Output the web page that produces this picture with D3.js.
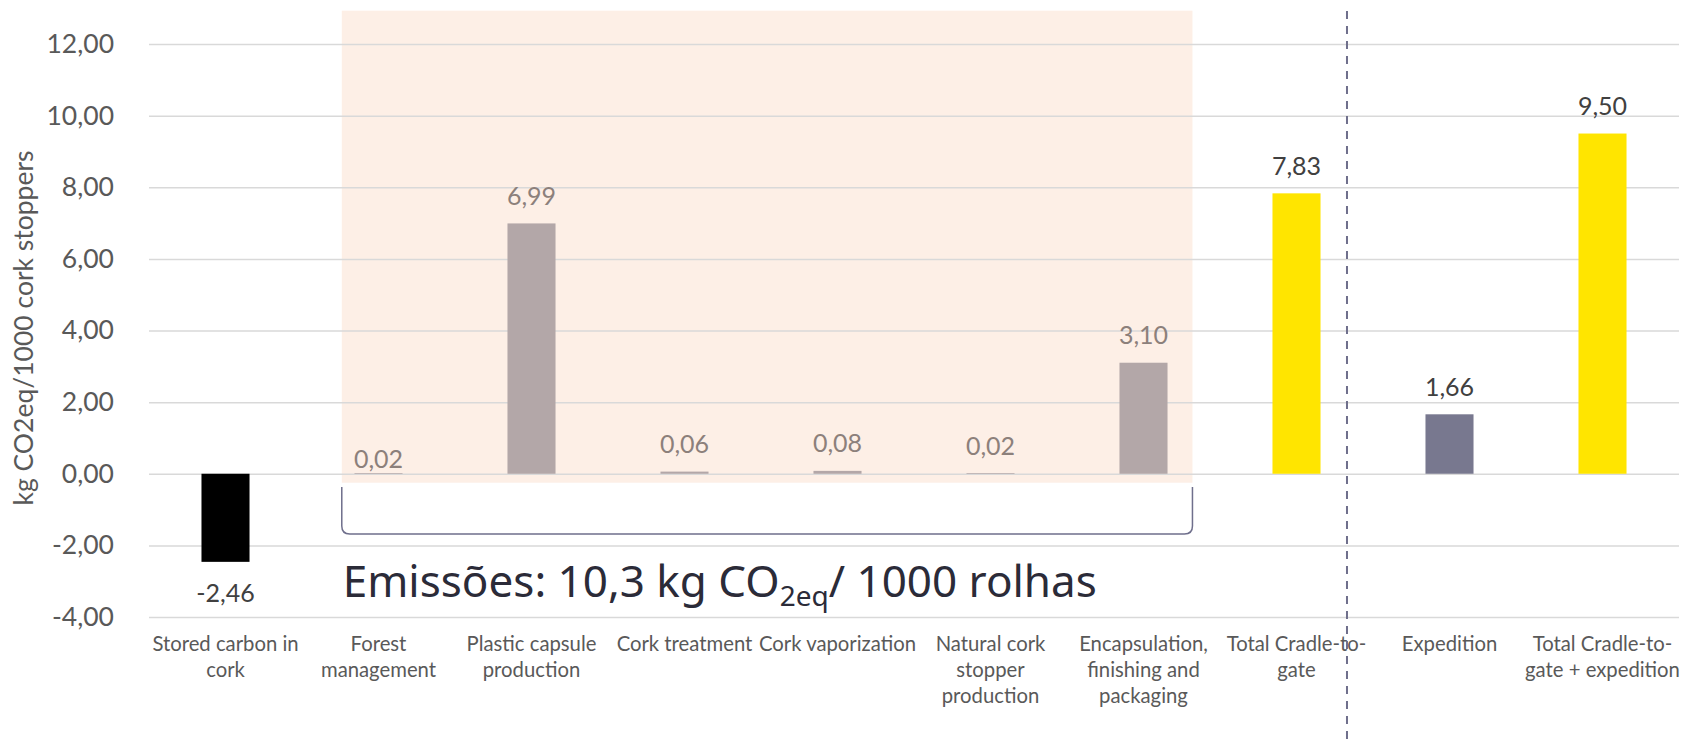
<!DOCTYPE html>
<html lang="en">
<head>
    <meta charset="UTF-8">
    <title>Cork stoppers carbon footprint</title>
    <script src="https://d3js.org/d3.v7.min.js"></script>
</head>
<body>
    <div id="chart"></div>
</body>
<style>
    *{
        padding: 0;
        margin: 0;
    }
    body{
        background: white;
    }
    text{
        font-family: Lato, "Open Sans", sans-serif;
    }
</style>
<script>
    // data
    let categories = [
        "Stored carbon in\ncork",
        "Forest\nmanagement",
        "Plastic capsule\nproduction",
        "Cork treatment",
        "Cork vaporization",
        "Natural cork\nstopper\nproduction",
        "Encapsulation,\nfinishing and\npackaging",
        "Total Cradle-to-\ngate",
        "Expedition",
        "Total Cradle-to-\ngate + expedition"
    ];
    let values = [-2.46, 0.02, 6.99, 0.06, 0.08, 0.02, 3.10, 7.83, 1.66, 9.50];
    let kinds = ["stored", "process", "process", "process", "process", "process", "process", "total", "expedition", "total"];
    let yTicks = [-4, -2, 0, 2, 4, 6, 8, 10, 12];
    let yTitle = "kg CO2eq/1000 cork stoppers";

    let colors = {stored: "#000000", process: "#b3a7a8", total: "#ffe500", expedition: "#78788f"};
    let labelColors = {stored: "#404040", process: "#8c807b", total: "#404040", expedition: "#404040"};

    var w = 1692;
    var h = 741;

    let locale = d3.formatLocale({decimal: ",", thousands: ".", grouping: [3], currency: ["", ""], minus: "-"});
    let fmt = locale.format(".2f");

    var svg = d3.select("#chart")
        .append("svg")
        .attr("width", w)
        .attr("height", h);

    let xScale = d3.scaleBand()
        .domain(categories)
        .range([149, 1679])
        .paddingInner(0.686)
        .paddingOuter(0.343);

    let yScale = d3.scaleLinear()
        .domain([-4, 12])
        .range([617, 44]);

    let step = xScale.step();
    let cx = function(i){ return xScale(categories[i]) + xScale.bandwidth() / 2; };

    // shaded block behind the process steps
    let shadeLeft = cx(1) - 0.24 * step;
    let shadeRight = cx(6) + 0.32 * step;
    svg.append("rect")
        .attr("x", shadeLeft)
        .attr("y", yScale(12.93))
        .attr("width", shadeRight - shadeLeft)
        .attr("height", yScale(-0.25) - yScale(12.93))
        .attr("fill", "#fdefe6");

    // gridlines + tick labels
    let yAxis = d3.axisLeft(yScale)
        .tickValues(yTicks)
        .tickFormat(fmt)
        .tickSize(-(1679 - 149))
        .tickPadding(35);

    let gy = svg.append("g")
        .attr("transform", "translate(149,0)")
        .call(yAxis);
    gy.select(".domain").remove();
    gy.selectAll(".tick line")
        .attr("stroke", "#d9d9d9")
        .attr("stroke-width", 1.5);
    gy.selectAll(".tick text")
        .attr("fill", "#595959")
        .style("font-size", "26.5px")
        .style("font-family", "Lato, sans-serif");

    // bars
    svg.selectAll("rect.bar")
        .data(values)
        .enter()
        .append("rect")
        .attr("class", "bar")
        .attr("x", (d, i) => xScale(categories[i]))
        .attr("width", xScale.bandwidth())
        .attr("y", d => yScale(Math.max(0, d)))
        .attr("height", d => Math.abs(yScale(d) - yScale(0)))
        .attr("fill", (d, i) => colors[kinds[i]]);

    // value labels
    svg.selectAll("text.val")
        .data(values)
        .enter()
        .append("text")
        .attr("class", "val")
        .attr("x", (d, i) => cx(i))
        .attr("y", (d, i) => {
            if (d < 0) return yScale(d) + 40;
            let y = yScale(d) - 18.5;
            if (i == 1) y += 13; // forest label sits a bit lower
            return y;
        })
        .attr("text-anchor", "middle")
        .attr("fill", (d, i) => labelColors[kinds[i]])
        .style("font-size", "25px")
        .text(d => fmt(d));

    // category labels
    let cat = svg.selectAll("text.cat")
        .data(categories)
        .enter()
        .append("text")
        .attr("class", "cat")
        .attr("text-anchor", "middle")
        .attr("fill", "#595959")
        .style("font-size", "20.3px");
    cat.each(function(d, i){
        let t = d3.select(this);
        d.split("\n").forEach((line, j) => {
            t.append("tspan")
                .attr("x", cx(i))
                .attr("y", 651 + j * 26)
                .text(line);
        });
    });

    // y axis title
    svg.append("text")
        .attr("transform", "translate(33," + 328 + ") rotate(-90)")
        .attr("text-anchor", "middle")
        .attr("fill", "#595959")
        .style("font-size", "26.5px")
        .text(yTitle);

    // bracket under the process steps
    let bTop = yScale(-0.37);
    let bBot = 534;
    let r = 8;
    svg.append("path")
        .attr("d", `M${shadeLeft},${bTop} L${shadeLeft},${bBot - r} Q${shadeLeft},${bBot} ${shadeLeft + r},${bBot}`
            + ` L${shadeRight - r},${bBot} Q${shadeRight},${bBot} ${shadeRight},${bBot - r} L${shadeRight},${bTop}`)
        .attr("fill", "none")
        .attr("stroke", "#6f6f8c")
        .attr("stroke-width", 1.5);

    // emissions note
    let note = svg.append("text")
        .attr("x", shadeLeft + 1)
        .attr("y", 597)
        .attr("fill", "#2b2b38")
        .style("font-family", "'Noto Sans', sans-serif")
        .style("font-size", "44px");
    note.append("tspan").text("Emissões: 10,3 kg CO");
    note.append("tspan").attr("dy", 9).style("font-size", "28px").text("2eq");
    note.append("tspan").attr("dy", -9).text("/ 1000 rolhas");

    // dashed divider between cradle-to-gate and expedition
    let divX = cx(7) + 0.33 * step;
    svg.append("line")
        .attr("x1", divX)
        .attr("x2", divX)
        .attr("y1", 11)
        .attr("y2", h)
        .attr("stroke", "#6f6f8c")
        .attr("stroke-width", 2)
        .attr("stroke-dasharray", "8,7");
</script>
</html>
